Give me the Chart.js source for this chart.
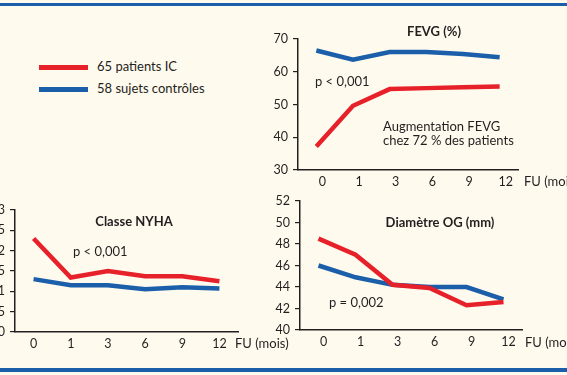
<!DOCTYPE html>
<html>
<head>
<meta charset="utf-8">
<script src="https://cdn.jsdelivr.net/npm/chart.js@4"></script>
<style>
body { margin:0; width:567px; height:375px; overflow:hidden; background:#fffaee; position:relative; font-family:Lato, sans-serif; color:#231f20; }
canvas { position:absolute; left:0; top:0; }
.rule { position:absolute; left:0; width:567px; background:#1b5ea9; }
.key { position:absolute; left:39px; font-size:13px; }
.key span { display:inline-block; width:49px; height:5px; vertical-align:middle; margin-right:9px; }
</style>
</head>
<body>
<div class="rule" style="top:3px;height:3px"></div>
<div class="rule" style="top:368px;height:4px"></div>
<div id="legend"></div>
<canvas id="fevg" width="567" height="375"></canvas>
<canvas id="nyha" width="567" height="375"></canvas>
<canvas id="og" width="567" height="375"></canvas>
<script>
var months = ['0', '1', '3', '6', '9', '12'];
var seriesNames = ['65 patients IC', '58 sujets contrôles'];
var seriesColors = ['#e62129', '#1b5ea9'];

var fevgIC   = [37.2, 49.6, 54.7, 55.0, 55.3, 55.5];
var fevgCtrl = [66.5, 63.7, 66.0, 66.0, 65.4, 64.4];
var fevgTicks = [30, 70, 10];

var nyhaIC   = [2.3, 1.34, 1.5, 1.37, 1.37, 1.25];
var nyhaCtrl = [1.3, 1.15, 1.15, 1.05, 1.1, 1.07];
var nyhaTicks = [0, 3, 0.5];

var ogIC   = [48.5, 47.0, 44.2, 43.9, 42.3, 42.6];
var ogCtrl = [46.0, 44.9, 44.2, 44.0, 44.0, 42.85];
var ogTicks = [40, 52, 2];

var ink = '#231f20';

// legend
var legend = document.getElementById('legend');
seriesNames.forEach(function (name, i) {
    var d = document.createElement('div');
    d.className = 'key';
    d.style.top = (58 + i * 22) + 'px';
    d.innerHTML = '<span style="background:' + seriesColors[i] + '"></span>' + name;
    legend.appendChild(d);
});

// draws the free text (titles, p values, axis name)
var notesPlugin = {
    id: 'notes',
    afterDraw: function (chart) {
        var ctx = chart.ctx;
        var notes = chart.options.plugins.notes.items || [];
        ctx.save();
        ctx.fillStyle = ink;
        ctx.textBaseline = 'middle';
        notes.forEach(function (n) {
            ctx.font = (n.bold ? 'bold ' : '') + (n.size || 13) + 'px Lato';
            ctx.textAlign = n.align || 'left';
            ctx.fillText(n.text, n.x, n.y);
        });
        ctx.restore();
    }
};

function makeChart(id, box, ticks, ic, ctrl, notes) {
    var xH = 22;
    return new Chart(document.getElementById(id), {
        type: 'line',
        data: {
            labels: months,
            datasets: [
                { label: seriesNames[0], data: ic, borderColor: seriesColors[0], borderWidth: 4.5 },
                { label: seriesNames[1], data: ctrl, borderColor: seriesColors[1], borderWidth: 4.5 }
            ]
        },
        options: {
            responsive: false,
            animation: false,
            layout: { padding: { left: 0, top: box.top, right: 567 - box.right, bottom: 375 - box.bottom - xH } },
            elements: { point: { radius: 0 }, line: { tension: 0, borderCapStyle: 'butt' } },
            plugins: { legend: { display: false }, tooltip: { enabled: false }, notes: { items: notes } },
            scales: {
                x: {
                    offset: true,
                    grid: { display: false, drawTicks: false },
                    border: { color: ink, width: 1.5 },
                    ticks: { color: ink, font: { family: 'Lato', size: 12.5 }, padding: 4, maxRotation: 0, labelOffset: box.shift },
                    afterFit: function (s) { s.height = xH; }
                },
                y: {
                    min: ticks[0], max: ticks[1],
                    grid: { drawOnChartArea: false, tickLength: 5, color: ink, lineWidth: 1.2 },
                    border: { color: ink, width: 1.5 },
                    ticks: {
                        stepSize: ticks[2], color: ink, padding: 5,
                        font: { family: 'Lato', size: 12.5 },
                        callback: function (v) { return String(v).replace('.', ','); }
                    },
                    afterFit: function (s) { s.width = box.left; }
                }
            }
        },
        plugins: [notesPlugin]
    });
}

makeChart('fevg', { left: 298, top: 39, bottom: 170, right: 518, shift: 6 }, fevgTicks, fevgIC, fevgCtrl, [
    { text: 'FEVG (%)', x: 434, y: 32, bold: true, align: 'center' },
    { text: 'p < 0,001', x: 315, y: 82 },
    { text: 'Augmentation FEVG', x: 383, y: 127 },
    { text: 'chez 72 % des patients', x: 383, y: 141 },
    { text: 'FU (mois)', x: 524, y: 182 }
]);

makeChart('nyha', { left: 15, top: 210, bottom: 332, right: 238, shift: 0 }, nyhaTicks, nyhaIC, nyhaCtrl, [
    { text: 'Classe NYHA', x: 134, y: 222, bold: true, align: 'center' },
    { text: 'p < 0,001', x: 73, y: 252 },
    { text: 'FU (mois)', x: 235, y: 344 }
]);

makeChart('og', { left: 300, top: 201, bottom: 330, right: 522, shift: 5 }, ogTicks, ogIC, ogCtrl, [
    { text: 'Diamètre OG (mm)', x: 440, y: 223, bold: true, align: 'center' },
    { text: 'p = 0,002', x: 329, y: 303 },
    { text: 'FU (mois)', x: 525, y: 343 }
]);
</script>
</body>
</html>
